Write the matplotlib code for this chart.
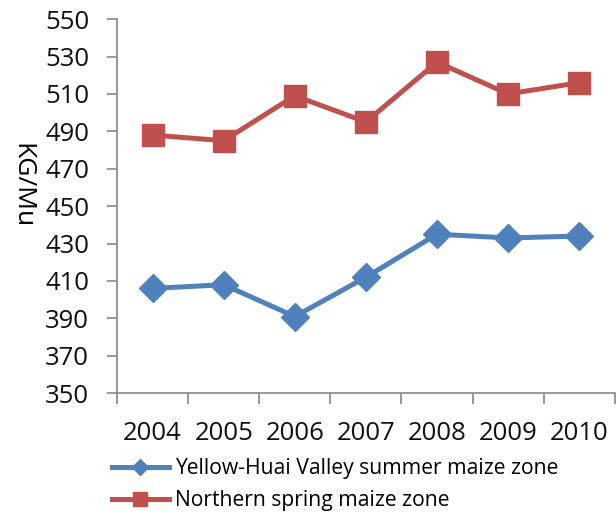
import matplotlib.pyplot as plt
from matplotlib.lines import Line2D

years = ["2004", "2005", "2006", "2007", "2008", "2009", "2010"]
yellow_huai = [406, 408, 391, 412, 435, 433, 434]
northern_spring = [488, 485, 509, 495, 527, 510, 516]
yticks = [350, 370, 390, 410, 430, 450, 470, 490, 510, 530, 550]

blue = "#4F81BD"
red = "#C0504D"

plt.rcParams["font.family"] = ["Open Sans", "DejaVu Sans"]

fig = plt.figure(figsize=(6.16, 5.16), dpi=100)
ax = fig.add_axes([0.19, 0.238, 0.808, 0.725])

x = range(len(years))
ax.plot(x, yellow_huai, color=blue, lw=3.6, marker="D", ms=14, zorder=3)
ax.plot(x, northern_spring, color=red, lw=3.6, marker="s", ms=16.5, zorder=3)

ax.set_xlim(-0.5, len(years) - 0.5)
ax.set_ylim(350, 550)
ax.set_yticks(yticks)
ax.set_xticks(list(x))
ax.set_xticklabels(years)
ax.set_xticks([i - 0.5 for i in range(len(years) + 1)], minor=True)

for s in ["top", "right"]:
    ax.spines[s].set_visible(False)
for s in ["left", "bottom"]:
    ax.spines[s].set_color("#868686")
    ax.spines[s].set_linewidth(1.2)

ax.tick_params(axis="y", labelsize=18.5, length=7, color="#868686", width=1.2,
               pad=13, labelcolor="#111111")
ax.tick_params(axis="x", which="major", labelsize=18.5, length=0, pad=20,
               labelcolor="#111111")
ax.tick_params(axis="x", which="minor", length=8, color="#868686", width=1.2)

fig.text(0.036, 0.64, "KG/Mu", rotation=270, fontsize=19, ha="center", va="center")

handles = [
    Line2D([], [], color=blue, lw=3.6, marker="D", ms=8),
    Line2D([], [], color=red, lw=3.6, marker="s", ms=10),
]
labels = ["Yellow-Huai Valley summer maize zone", "Northern spring maize zone"]
fig.legend(handles, labels, loc="upper left", bbox_to_anchor=(0.168, 0.128),
           frameon=False, fontsize=15.2, handlelength=2.7, handletextpad=0.3,
           labelspacing=0.5, borderaxespad=0)

fig.savefig("out.png", dpi=100)
